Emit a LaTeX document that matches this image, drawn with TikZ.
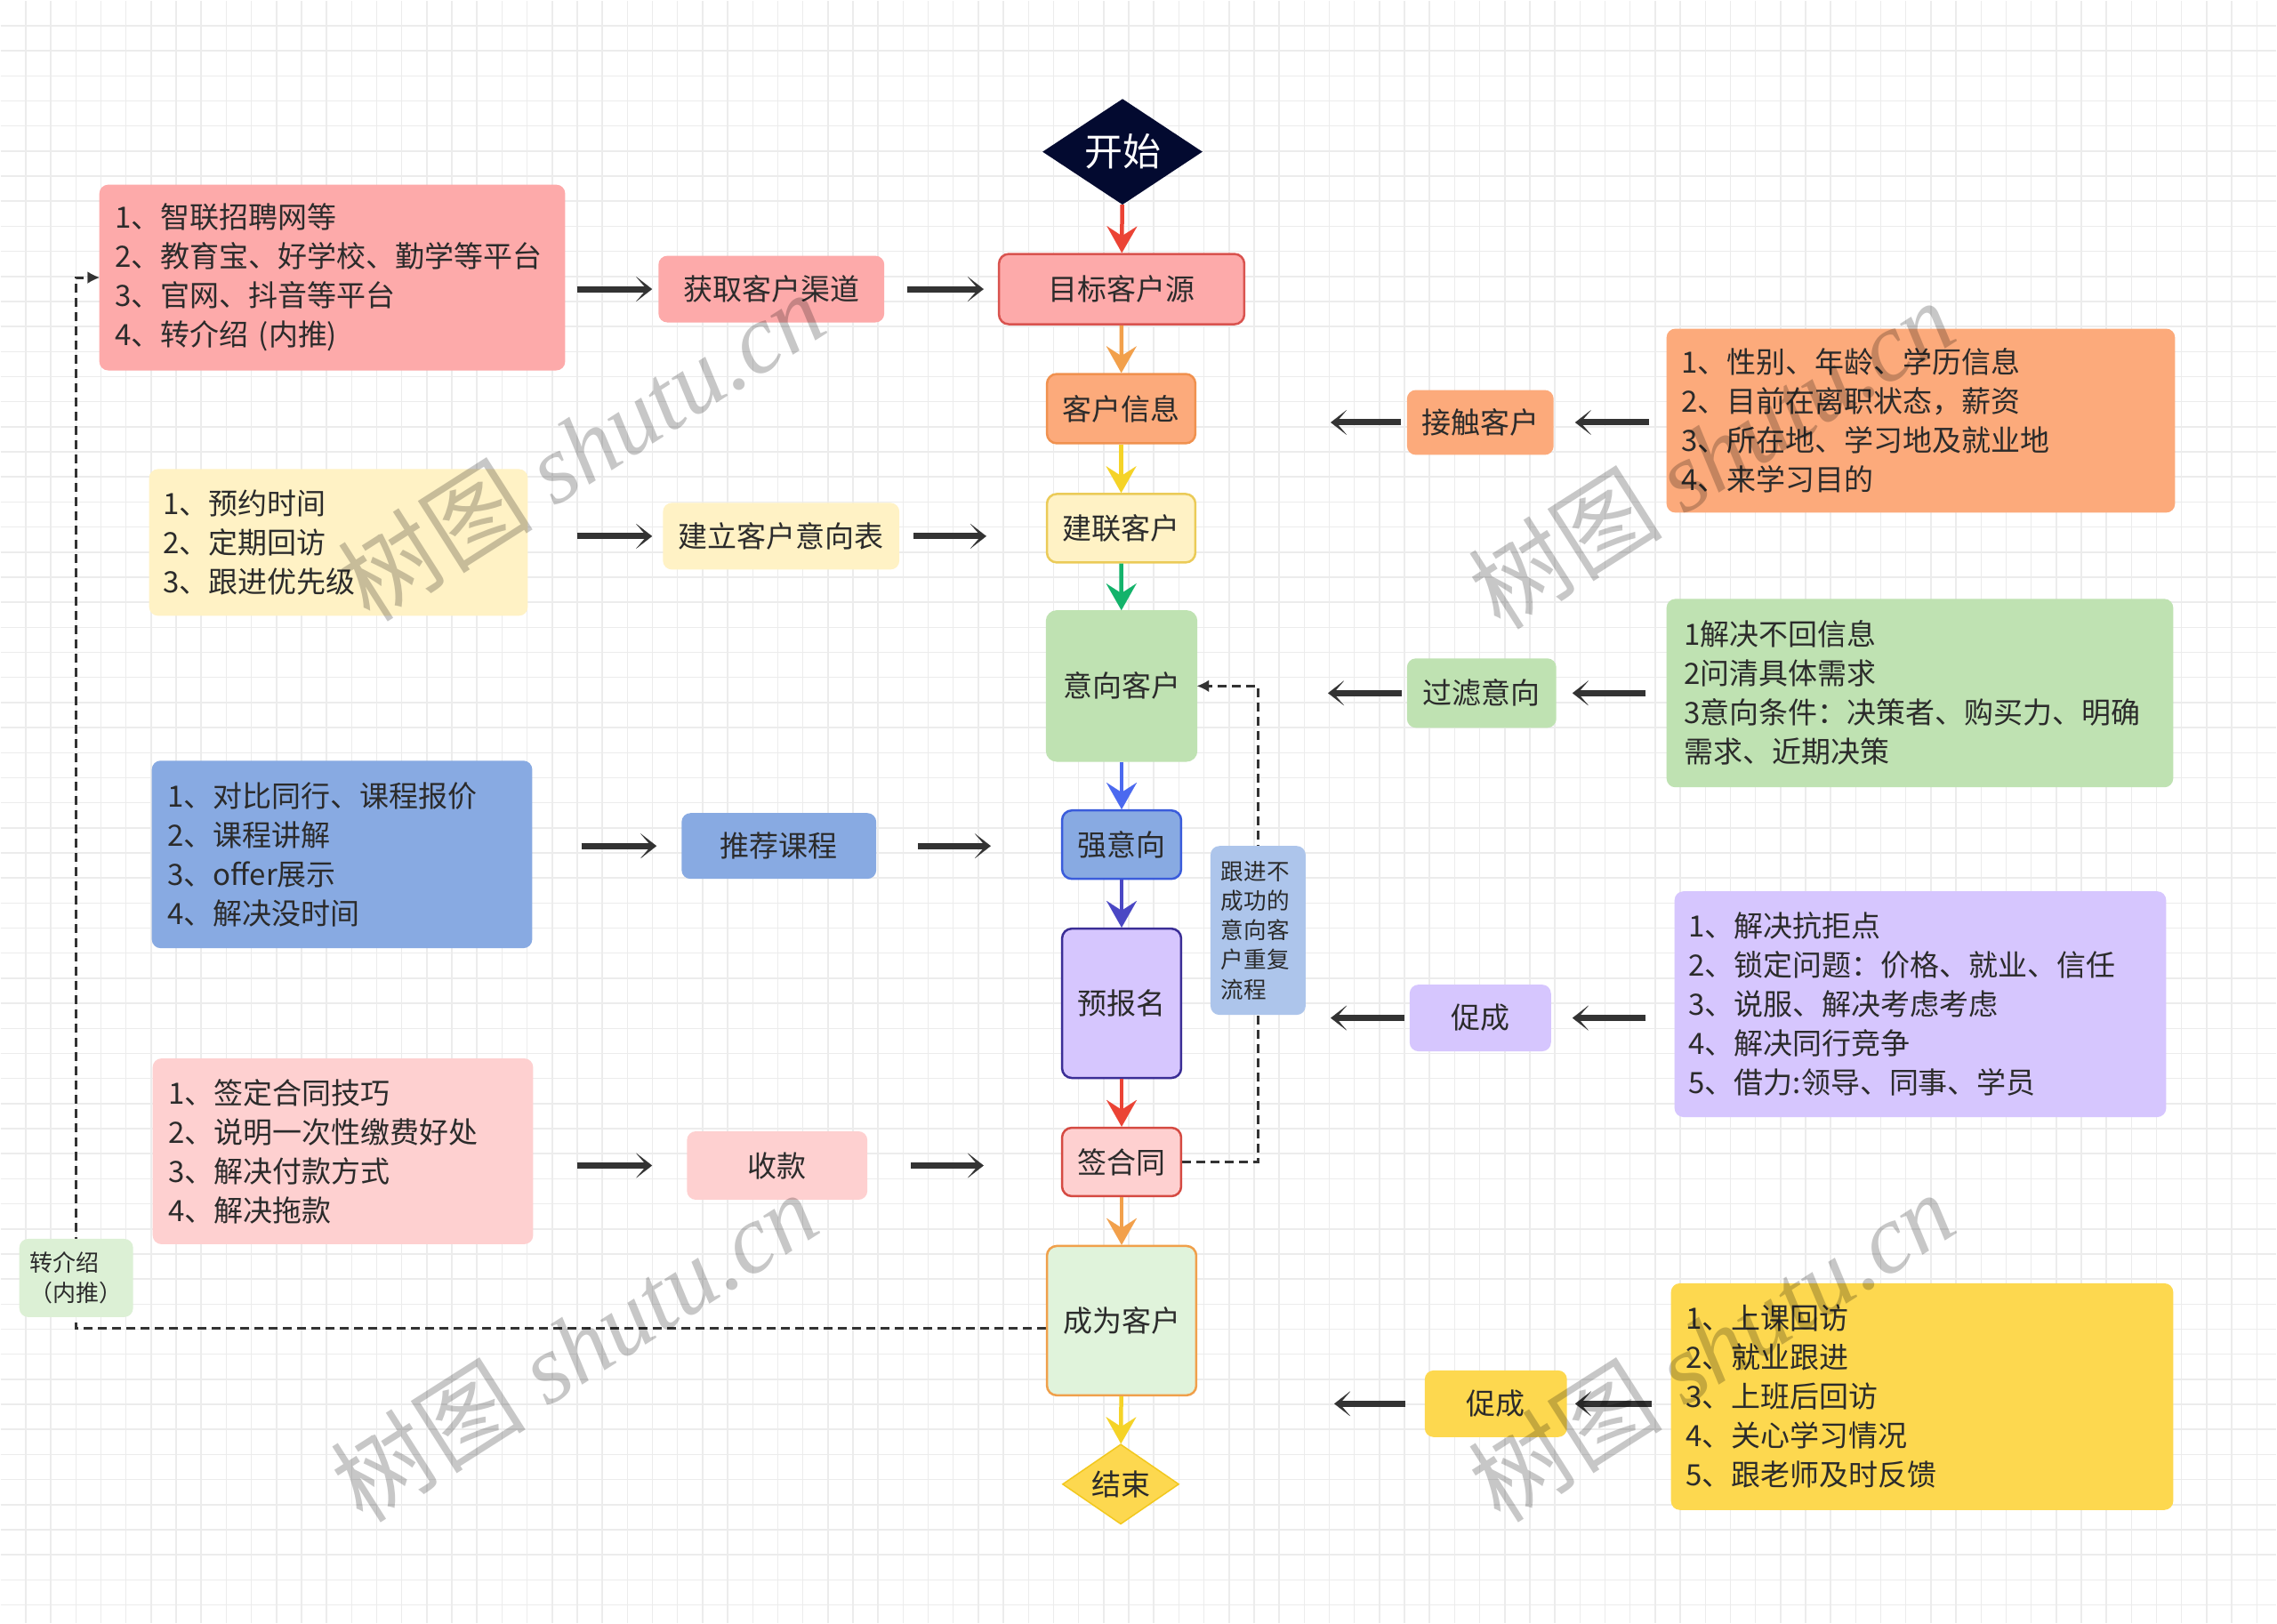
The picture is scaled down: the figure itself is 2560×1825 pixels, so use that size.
\documentclass[tikz,border=0pt]{standalone}
\usepackage{fontspec}
\setmainfont{Noto Sans CJK SC}
\newfontfamily\wmlatin{Liberation Serif}
\usetikzlibrary{arrows.meta,shapes.geometric}
\pgfdeclarelayer{bg}
\pgfsetlayers{bg,main}
\definecolor{gridc}{HTML}{ECECEC}
\definecolor{txt}{HTML}{2B2B2B}
\definecolor{startc}{HTML}{030A30}
\definecolor{pinkA}{HTML}{FDAAAA}
\definecolor{pinkAb}{HTML}{D9534F}
\definecolor{orangeF}{HTML}{FCAA7B}
\definecolor{orangeB}{HTML}{F0914F}
\definecolor{ylight}{HTML}{FFF2C5}
\definecolor{ylightb}{HTML}{EBCB58}
\definecolor{greenF}{HTML}{BFE2B2}
\definecolor{blueF}{HTML}{88AAE2}
\definecolor{blueB}{HTML}{3A5CDB}
\definecolor{purpF}{HTML}{D6C6FE}
\definecolor{purpB}{HTML}{3B2E96}
\definecolor{pinkL}{HTML}{FED0D0}
\definecolor{pinkLb}{HTML}{D54A42}
\definecolor{custF}{HTML}{E0F3DB}
\definecolor{custB}{HTML}{F0A04B}
\definecolor{zjsF}{HTML}{DCF0D5}
\definecolor{gjF}{HTML}{ADC5EB}
\definecolor{yelF}{HTML}{FDD84F}
\definecolor{yelB}{HTML}{F2C81E}
\definecolor{aRed}{HTML}{EB4335}
\definecolor{aOrange}{HTML}{F2A04B}
\definecolor{aYellow}{HTML}{F5D327}
\definecolor{aGreen}{HTML}{13B36B}
\definecolor{aBlue}{HTML}{4B69EF}
\definecolor{aIndigo}{HTML}{4A47C4}
\definecolor{dark}{HTML}{333333}
\begin{document}
\begin{tikzpicture}[x=1pt,y=-1pt,
  base/.style={font=\fontsize{33}{44}\selectfont, text=txt},
  cbox/.style={base, rectangle, rounded corners=11pt, line width=2.5pt, inner sep=0pt},
  sbox/.style={base, rectangle, rounded corners=10pt, inner sep=0pt},
  lst/.style={base, rectangle, rounded corners=10pt, inner xsep=18pt, inner ysep=0pt, align=left},
  blk/.style={draw=dark, line width=7pt, -{Stealth[length=18pt,width=28pt,inset=12pt,line width=0.1pt]}},
  flow/.style={line width=4.5pt, -{Stealth[length=30pt,width=34pt,inset=11pt,line width=0.1pt]}},
  dsh/.style={draw=dark, line width=3pt, dash pattern=on 10pt off 6pt, -{Latex[length=13pt,width=13pt,line width=0.1pt]}},
  wm/.style={rotate=32.5, text=black, text opacity=0.22, font=\fontsize{110}{110}\selectfont, inner sep=0pt}
]
\begin{pgfonlayer}{bg}
\fill[white] (0,0) rectangle (2560,1825);
\foreach \i in {1,...,90} {\draw[gridc, line width=1.5pt] (\i*28.2,0) -- (\i*28.2,1825);}
\foreach \j in {1,...,64} {\draw[gridc, line width=1.5pt] (0,\j*28.2) -- (2560,\j*28.2);}
\end{pgfonlayer}
\useasboundingbox (0,0) rectangle (2560,1825);

% central column
\node[diamond, fill=startc, shape aspect=1.5, minimum width=180pt, minimum height=119pt, inner sep=0pt, text=white, font=\fontsize{43}{43}\selectfont] (start) at (1262,170) {开始};
\node[cbox, fill=pinkA, draw=pinkAb, minimum width=276pt, minimum height=79pt] (tgt) at (1261,324.5) {目标客户源};
\node[cbox, fill=orangeF, draw=orangeB, minimum width=167pt, minimum height=78pt] (info) at (1260.5,459) {客户信息};
\node[cbox, fill=ylight, draw=ylightb, minimum width=167pt, minimum height=77pt] (lian) at (1260.5,593.5) {建联客户};
\node[cbox, fill=greenF, draw=greenF, minimum width=168pt, minimum height=168pt] (yx) at (1261,771) {意向客户};
\node[cbox, fill=blueF, draw=blueB, minimum width=134pt, minimum height=77pt] (qyx) at (1261,949.5) {强意向};
\node[cbox, fill=purpF, draw=purpB, minimum width=134pt, minimum height=168pt] (ybm) at (1261,1128) {预报名};
\node[cbox, fill=pinkL, draw=pinkLb, minimum width=134pt, minimum height=77pt] (qht) at (1261,1306.5) {签合同};
\node[cbox, fill=custF, draw=custB, minimum width=168pt, minimum height=168pt] (cwkh) at (1261,1485) {成为客户};
\node[diamond, base, fill=yelF, draw=yelB, line width=1.5pt, shape aspect=1.45, minimum width=131pt, minimum height=90pt, inner sep=0pt] (fin) at (1260,1669) {结束};

\node[sbox, fill=gjF, minimum width=107pt, minimum height=190pt, align=left, text width=83pt, font=\fontsize{25.6}{33.3}\selectfont] (gj) at (1414.5,1046) {跟进不\\成功的\\意向客\\户重复\\流程};

% left side
\node[lst, fill=pinkA, text width=488pt, minimum height=209pt] (A) at (373,311.5) {1、智联招聘网等\\2、教育宝、好学校、勤学等平台\\3、官网、抖音等平台\\4、转介绍 (内推)};
\node[sbox, fill=pinkA, minimum width=254pt, minimum height=75pt] (qd) at (867,324.5) {获取客户渠道};
\node[lst, fill=ylight, text width=394pt, inner xsep=16pt, minimum height=165pt] (B) at (380,609.5) {1、预约时间\\2、定期回访\\3、跟进优先级};
\node[sbox, fill=ylight, minimum width=266pt, minimum height=75pt] (yxb) at (878,602.5) {建立客户意向表};
\node[lst, fill=blueF, text width=392pt, minimum height=211pt] (C) at (384,960.5) {1、对比同行、课程报价\\2、课程讲解\\3、offer展示\\4、解决没时间};
\node[sbox, fill=blueF, minimum width=219pt, minimum height=74pt] (tj) at (875.5,951) {推荐课程};
\node[lst, fill=pinkL, text width=392pt, minimum height=209pt] (D) at (385,1294.5) {1、签定合同技巧\\2、说明一次性缴费好处\\3、解决付款方式\\4、解决拖款};
\node[sbox, fill=pinkL, minimum width=203pt, minimum height=77pt] (sk) at (873.5,1310.5) {收款};
\node[sbox, fill=zjsF, minimum width=128pt, minimum height=88pt, align=left, text width=104pt, font=\fontsize{26}{34}\selectfont] (zjs) at (85,1437) {转介绍\\（内推）};

% right side
\node[lst, fill=orangeF, text width=538pt, inner xsep=17pt, minimum height=207pt] (E) at (2160,472.5) {1、性别、年龄、学历信息\\2、目前在离职状态，薪资\\3、所在地、学习地及就业地\\4、来学习目的};
\node[sbox, fill=orangeF, minimum width=165pt, minimum height=73pt] (jc) at (1664.5,474.5) {接触客户};
\node[lst, fill=greenF, text width=530pt, inner xsep=20pt, minimum height=212pt] (F) at (2159,779) {1解决不回信息\\2问清具体需求\\3意向条件：决策者、购买力、明确\\需求、近期决策};
\node[sbox, fill=greenF, minimum width=168pt, minimum height=78pt] (gl) at (1666,779) {过滤意向};
\node[lst, fill=purpF, text width=521pt, inner xsep=16pt, minimum height=254pt] (G) at (2159.5,1129) {1、解决抗拒点\\2、锁定问题：价格、就业、信任\\3、说服、解决考虑考虑\\4、解决同行竞争\\5、借力:领导、同事、学员};
\node[sbox, fill=purpF, minimum width=159pt, minimum height=75pt] (cc1) at (1664.5,1144.5) {促成};
\node[lst, fill=yelF, text width=531pt, inner xsep=17pt, minimum height=255pt] (H) at (2161.5,1570.5) {1、上课回访\\2、就业跟进\\3、上班后回访\\4、关心学习情况\\5、跟老师及时反馈};
\node[sbox, fill=yelF, minimum width=160pt, minimum height=75pt] (cc2) at (1682,1578.5) {促成};

% central flow arrows
\draw[flow, draw=aRed] (start) -- (tgt);
\draw[flow, draw=aOrange] (tgt) -- (info);
\draw[flow, draw=aYellow] (info) -- (lian);
\draw[flow, draw=aGreen] (lian) -- (yx);
\draw[flow, draw=aBlue] (yx) -- (qyx);
\draw[flow, draw=aIndigo] (qyx) -- (ybm);
\draw[flow, draw=aRed] (ybm) -- (qht);
\draw[flow, draw=aOrange] (qht) -- (cwkh);
\draw[flow, draw=aYellow] (cwkh) -- (fin);

% left black arrows
\draw[blk, shorten <=13pt, shorten >=7pt] (A.east |- qd.west) -- (qd.west);
\draw[blk, shorten <=26pt, shorten >=16pt] (qd.east) -- (tgt.west);
\draw[blk, shorten <=55pt, shorten >=12pt] (B.east |- yxb.west) -- (yxb.west);
\draw[blk, shorten <=16pt, shorten >=67pt] (yxb.east) -- (lian.west |- yxb.east);
\draw[blk, shorten <=55pt, shorten >=28pt] (C.east |- tj.west) -- (tj.west);
\draw[blk, shorten <=47pt, shorten >=79pt] (tj.east) -- (qyx.west |- tj.east);
\draw[blk, shorten <=49pt, shorten >=39pt] (D.east |- sk.west) -- (sk.west);
\draw[blk, shorten <=49pt, shorten >=87pt] (sk.east) -- (qht.west |- sk.east);

% right black arrows
\draw[blk, shorten <=19pt, shorten >=24pt] (E.west |- jc.east) -- (jc.east);
\draw[blk, shorten <=7pt, shorten >=151pt] (jc.west) -- (info.east |- jc.west);
\draw[blk, shorten <=23pt, shorten >=18pt] (F.west |- gl.east) -- (gl.east);
\draw[blk, shorten <=6pt, shorten >=147pt] (gl.west) -- (yx.east |- gl.west);
\draw[blk, shorten <=32pt, shorten >=24pt] (G.west |- cc1.east) -- (cc1.east);
\draw[blk, shorten <=6pt, shorten >=167pt] (cc1.west) -- (ybm.east |- cc1.west);
\draw[blk, shorten <=21pt, shorten >=9pt] (H.west |- cc2.east) -- (cc2.east);
\draw[blk, shorten <=22pt, shorten >=154pt] (cc2.west) -- (cwkh.east |- cc2.west);

% dashed loops (behind boxes)
\begin{pgfonlayer}{bg}
\draw[dsh] (qht.east) -| (gj.center) |- (yx.east);
\draw[dsh] ([yshift=-9pt]cwkh.west) -| (zjs.center) |- (A.west);
\end{pgfonlayer}

% watermarks
\node[wm] (wm1) at (653,501) {树图 {\wmlatin\itshape shutu.cn}};
\node[wm] (wm2) at (1924,510) {树图 {\wmlatin\itshape shutu.cn}};
\node[wm] (wm3) at (645,1514) {树图 {\wmlatin\itshape shutu.cn}};
\node[wm] (wm4) at (1924,1514) {树图 {\wmlatin\itshape shutu.cn}};
\end{tikzpicture}
\end{document}
